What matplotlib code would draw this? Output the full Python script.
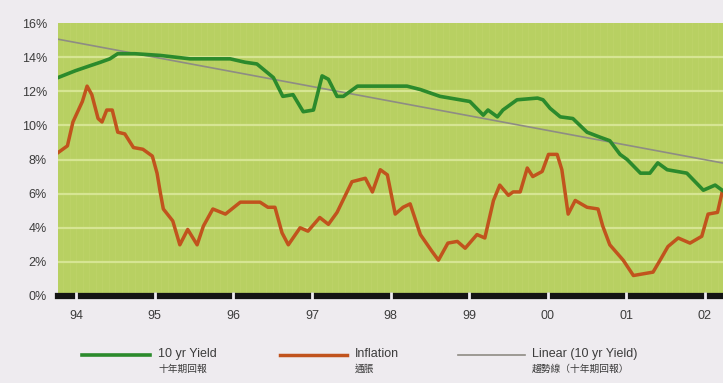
import numpy as np
import matplotlib.pyplot as plt
from matplotlib.lines import Line2D

# 10 yr yield (%), decimal years
yield_t = [1993.77, 1993.99, 1994.18, 1994.31, 1994.43, 1994.53, 1994.75, 1995.07,
           1995.45, 1995.96, 1996.15, 1996.30, 1996.51, 1996.63, 1996.76, 1996.89,
           1997.02, 1997.13, 1997.21, 1997.32, 1997.40, 1997.58, 1997.78, 1998.21,
           1998.38, 1998.63, 1999.01, 1999.18, 1999.24, 1999.36, 1999.43, 1999.61,
           1999.87, 1999.94, 2000.03, 2000.16, 2000.32, 2000.50, 2000.67, 2000.79,
           2000.92, 2001.01, 2001.18, 2001.30, 2001.40, 2001.52, 2001.77, 2001.98,
           2002.13, 2002.22]
yield_v = [12.8, 13.2, 13.5, 13.7, 13.9, 14.2, 14.2, 14.1,
           13.9, 13.9, 13.7, 13.6, 12.8, 11.7, 11.8, 10.8,
           10.9, 12.9, 12.7, 11.7, 11.7, 12.3, 12.3, 12.3,
           12.1, 11.7, 11.4, 10.6, 10.9, 10.5, 10.9, 11.5,
           11.6, 11.5, 11.0, 10.5, 10.4, 9.6, 9.3, 9.1,
           8.3, 8.0, 7.2, 7.2, 7.8, 7.4, 7.2, 6.2,
           6.5, 6.2]

# inflation (%)
infl_t = [1993.77, 1993.89, 1993.96, 1994.08, 1994.14, 1994.20, 1994.28, 1994.33,
          1994.39, 1994.46, 1994.53, 1994.62, 1994.73, 1994.85, 1994.97, 1995.03,
          1995.07, 1995.11, 1995.23, 1995.32, 1995.42, 1995.54, 1995.62, 1995.74,
          1995.90, 1996.09, 1996.34, 1996.44, 1996.53, 1996.62, 1996.70, 1996.85,
          1996.95, 1997.10, 1997.21, 1997.32, 1997.51, 1997.68, 1997.77, 1997.87,
          1997.96, 1998.06, 1998.16, 1998.25, 1998.38, 1998.53, 1998.61, 1998.73,
          1998.85, 1998.95, 1999.10, 1999.20, 1999.31, 1999.39, 1999.50, 1999.56,
          1999.65, 1999.74, 1999.81, 1999.93, 2000.01, 2000.12, 2000.18, 2000.26,
          2000.35, 2000.50, 2000.64, 2000.70, 2000.79, 2000.96, 2001.09, 2001.34,
          2001.43, 2001.53, 2001.66, 2001.81, 2001.96, 2002.04, 2002.16, 2002.22]
infl_v = [8.4, 8.8, 10.2, 11.4, 12.3, 11.8, 10.4, 10.2,
          10.9, 10.9, 9.6, 9.5, 8.7, 8.6, 8.2, 7.2,
          6.1, 5.1, 4.4, 3.0, 3.9, 3.0, 4.1, 5.1,
          4.8, 5.5, 5.5, 5.2, 5.2, 3.7, 3.0, 4.0,
          3.8, 4.6, 4.2, 4.9, 6.7, 6.9, 6.1, 7.4,
          7.1, 4.8, 5.2, 5.4, 3.6, 2.6, 2.1, 3.1,
          3.2, 2.8, 3.6, 3.4, 5.6, 6.5, 5.9, 6.1,
          6.1, 7.5, 7.0, 7.3, 8.3, 8.3, 7.4, 4.8,
          5.6, 5.2, 5.1, 4.1, 3.0, 2.1, 1.2, 1.4,
          2.1, 2.9, 3.4, 3.1, 3.5, 4.8, 4.9, 6.1]

# linear trend of the yield
trend_t = [1993.77, 2002.22]
trend_v = [15.05, 7.8]

years = [1994, 1995, 1996, 1997, 1998, 1999, 2000, 2001, 2002]
year_labels = ['94', '95', '96', '97', '98', '99', '00', '01', '02']
y_ticks = [0, 2, 4, 6, 8, 10, 12, 14, 16]
y_labels = ['0%', '2%', '4%', '6%', '8%', '10%', '12%', '14%', '16%']

fonts = ['Liberation Sans Narrow', 'Liberation Sans', 'Noto Sans CJK TC']
plt.rcParams['font.family'] = fonts

GREEN = '#2b8a2c'
ORANGE = '#c1531d'
GREY = '#8e8c84'
TXT = '#3c3c3c'

fig = plt.figure(figsize=(7.23, 3.83), dpi=100)
fig.patch.set_facecolor('#eeebef')
ax = fig.add_axes([58 / 723, 1 - 296 / 383, 1 - 58 / 723, (296 - 23) / 383])
ax.set_facecolor('#b8d062')

# faint monthly texture + horizontal grid
for m in np.arange(1993.75, 2002.3, 1 / 12):
    ax.axvline(m, color='#c4d872', lw=0.7, alpha=0.35, zorder=0)
for g in y_ticks[1:-1]:
    ax.axhline(g, color='#d6e593', lw=1.6, zorder=1)

ax.plot(trend_t, trend_v, color=GREY, lw=1.2, zorder=3)
ax.plot(infl_t, infl_v, color=ORANGE, lw=2.5, solid_joinstyle='round', zorder=4)
ax.plot(yield_t, yield_v, color=GREEN, lw=2.6, solid_joinstyle='round', zorder=5)

ax.set_xlim(1993.77, 2002.23)
ax.set_ylim(0, 16)

# black base bar with white gaps at the year marks
ax.axhline(0, color='#141414', lw=4.5, zorder=6, clip_on=False)
ax.vlines(years, -0.3, 0.25, color='#eeebef', lw=2, zorder=7, clip_on=False)

for s in ax.spines.values():
    s.set_visible(False)
ax.set_xticks(years)
ax.set_xticklabels(year_labels)
ax.set_yticks(y_ticks)
ax.set_yticklabels(y_labels)
ax.tick_params(length=0, colors=TXT, labelsize=9)
ax.tick_params(axis='x', pad=10)
ax.tick_params(axis='y', pad=8)

# legend
leg = [
    (82, 150, GREEN, 2.6, '10 yr Yield', '十年期回報', 158),
    (280, 347, ORANGE, 2.5, 'Inflation', '通脹', 355),
    (458, 525, GREY, 1.2, 'Linear (10 yr Yield)', '趨勢線（十年期回報）', 532),
]
for x0, x1, c, lw, en, zh, tx in leg:
    fig.add_artist(Line2D([x0 / 723, x1 / 723], [1 - 355 / 383] * 2,
                          color=c, lw=lw, transform=fig.transFigure))
    fig.text(tx / 723, 1 - 354 / 383, en, fontsize=9, color=TXT, va='center')
    fig.text(tx / 723, 1 - 369 / 383, zh, fontsize=7, color=TXT, va='center')

fig.savefig('out.png', dpi=100, facecolor=fig.get_facecolor())
